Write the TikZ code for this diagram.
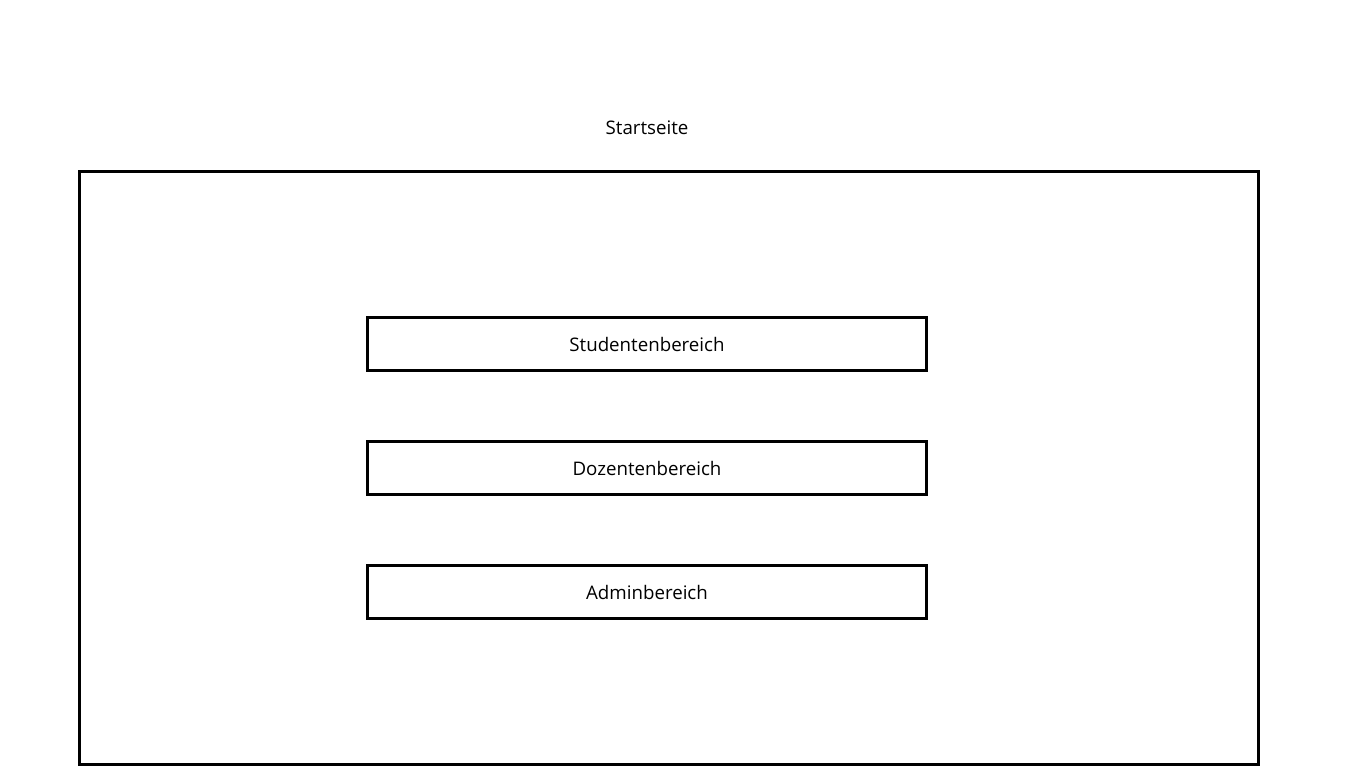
\documentclass[tikz,border=0pt]{standalone}
\usepackage{fontspec}
\setmainfont{Open Sans}
\begin{document}
\begin{tikzpicture}[x=1pt,y=-1pt,
  frame/.style={draw=black,line width=3.5pt,fill=white},
  area/.style={draw=black,line width=3.5pt,fill=white,minimum width=559pt,minimum height=53pt,inner sep=0pt,font=\fontsize{18.7}{22}\selectfont},
  lbl/.style={inner sep=0pt,font=\fontsize{18.7}{22}\selectfont}]
\useasboundingbox[fill=white] (0,0) rectangle (1366,768);
\node[frame,minimum width=1179pt,minimum height=593pt,inner sep=0pt] (page) at (669,468) {};
\node[lbl] (title) at (647,128) {Startseite};
\node[area] (stud) at (647,344) {Studentenbereich};
\node[area] (doz) at (647,468) {Dozentenbereich};
\node[area] (admin) at (647,592) {Adminbereich};
\end{tikzpicture}
\end{document}
